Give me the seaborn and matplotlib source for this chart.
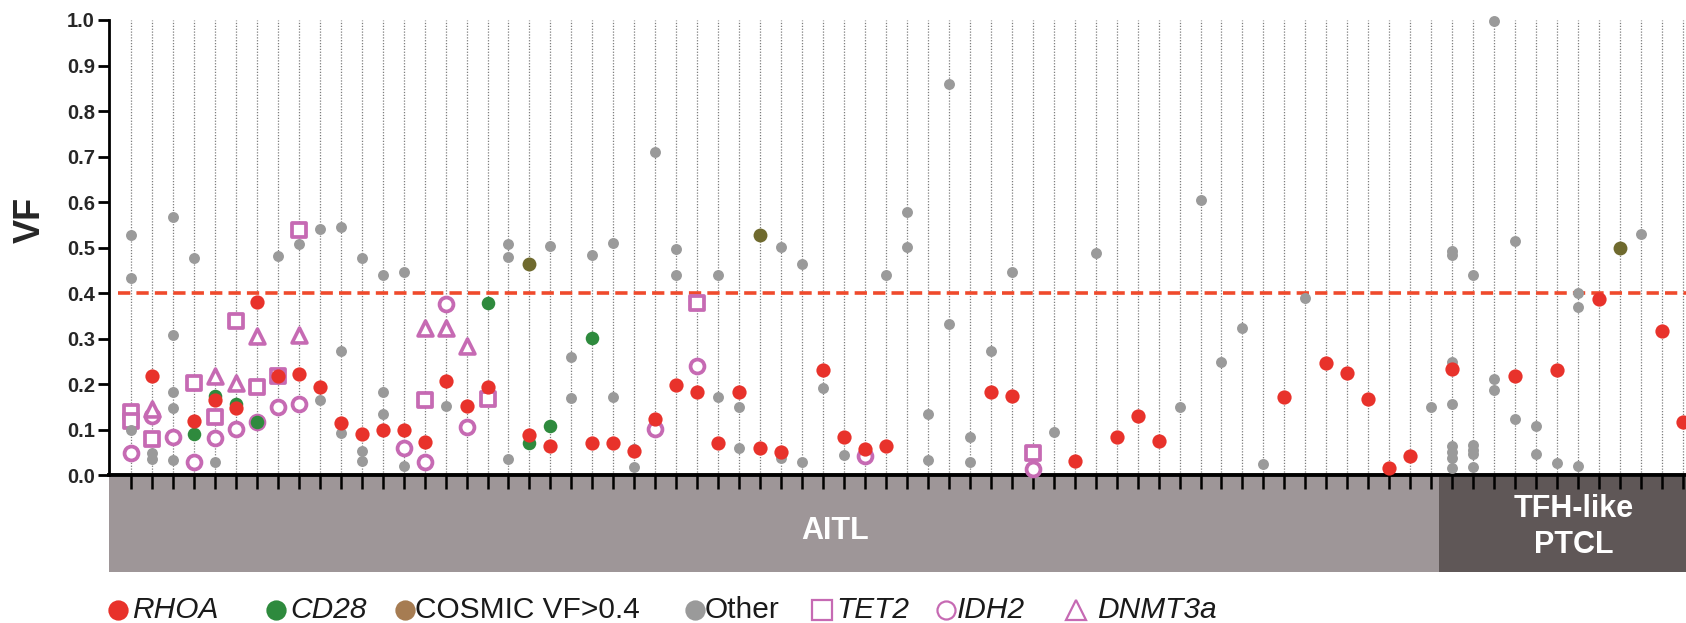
import numpy as np
import pandas as pd
import seaborn as sns
import matplotlib.pyplot as plt
from matplotlib.lines import Line2D

sns.set_theme(style="white")
plt.rcParams['font.family'] = ['Liberation Sans', 'DejaVu Sans']

# samples 0..74, first 63 are AITL, the rest TFH-like PTCL
n_samples = 75
group_names = ['AITL', 'TFH-like\nPTCL']
group_sizes = [63, 12]

# RHOA (red dots)
rhoa_x = [1, 3, 4, 5, 6, 7, 8, 9, 10, 11, 12, 13, 14, 15, 16, 17, 19, 20, 22, 23,
          24, 25, 26, 27, 28, 29, 30, 31, 33, 34, 35, 36, 41, 42, 45, 47, 48, 49,
          55, 57, 58, 59, 60, 61, 63, 66, 68, 70, 73, 74]
rhoa_vf = [0.219, 0.12, 0.165, 0.147, 0.38, 0.219, 0.223, 0.193, 0.114, 0.091,
           0.10, 0.10, 0.074, 0.206, 0.153, 0.195, 0.089, 0.064, 0.07, 0.071,
           0.054, 0.123, 0.198, 0.182, 0.072, 0.182, 0.059, 0.052, 0.232, 0.083,
           0.058, 0.064, 0.182, 0.174, 0.031, 0.085, 0.13, 0.075,
           0.173, 0.246, 0.224, 0.167, 0.016, 0.042, 0.234, 0.218, 0.231, 0.388,
           0.318, 0.116]

# CD28 (green dots)
cd28_x = [3, 4, 5, 6, 17, 19, 20, 22]
cd28_vf = [0.091, 0.174, 0.157, 0.116, 0.379, 0.072, 0.108, 0.301]

# COSMIC VF>0.4
cosmic_x = [19, 30, 71]
cosmic_vf = [0.463, 0.527, 0.50]

# Other (grey dots)
other_x = [0, 0, 0, 1, 1, 2, 2, 2, 2, 2, 3, 4, 7, 8, 9, 9, 10, 10, 10, 11, 11, 11,
           12, 12, 12, 13, 13, 15, 18, 18, 18, 20, 21, 21, 22, 23, 23, 24, 24, 25,
           26, 26, 28, 28, 29, 29, 31, 31, 32, 32, 33, 34, 36, 37, 37, 38, 38, 39,
           39, 40, 40, 41, 42, 44, 46, 50, 51, 52, 53, 54, 56, 62,
           63, 63, 63, 63, 63, 63, 63, 63, 64, 64, 64, 64, 64, 65, 65, 65, 66, 66,
           67, 67, 68, 69, 69, 69, 72]
other_vf = [0.527, 0.433, 0.10, 0.05, 0.036, 0.568, 0.308, 0.182, 0.147, 0.034,
            0.478, 0.029, 0.482, 0.507, 0.542, 0.165, 0.545, 0.274, 0.092, 0.477,
            0.053, 0.032, 0.44, 0.184, 0.134, 0.447, 0.02, 0.153, 0.507, 0.479,
            0.035, 0.503, 0.259, 0.169, 0.483, 0.51, 0.172, 0.058, 0.019, 0.709,
            0.496, 0.44, 0.441, 0.171, 0.149, 0.059, 0.502, 0.037, 0.465, 0.03,
            0.192, 0.044, 0.439, 0.578, 0.501, 0.135, 0.034, 0.86, 0.332, 0.084,
            0.029, 0.272, 0.447, 0.095, 0.488, 0.149, 0.604, 0.248, 0.323, 0.024,
            0.39, 0.149,
            0.493, 0.483, 0.248, 0.157, 0.065, 0.052, 0.038, 0.016, 0.44, 0.067,
            0.056, 0.047, 0.019, 0.998, 0.211, 0.187, 0.514, 0.123, 0.108, 0.046,
            0.027, 0.401, 0.369, 0.02, 0.529]

# TET2 (open squares)
tet2_x = [0, 0, 1, 3, 4, 5, 6, 7, 8, 14, 17, 27, 43]
tet2_vf = [0.14, 0.12, 0.079, 0.202, 0.129, 0.339, 0.193, 0.219, 0.539, 0.165,
           0.168, 0.379, 0.048]

# IDH2 (open circles)
idh2_x = [0, 1, 2, 3, 4, 5, 6, 7, 8, 13, 14, 15, 16, 25, 27, 35, 43]
idh2_vf = [0.05, 0.13, 0.083, 0.03, 0.081, 0.102, 0.118, 0.149, 0.157, 0.059,
           0.029, 0.376, 0.107, 0.102, 0.24, 0.042, 0.014]

# DNMT3a (open triangles)
dnmt3a_x = [1, 4, 5, 6, 8, 14, 15, 16]
dnmt3a_vf = [0.145, 0.218, 0.202, 0.305, 0.308, 0.323, 0.323, 0.284]

cutoff = 0.4

red = '#e8322b'
green = '#2e8a3d'
olive = '#6f6a2e'
brown = '#a67c52'
grey = '#9a9a9a'
pink = '#c66ab3'

parts = []
for gene, xs, vs in [('RHOA', rhoa_x, rhoa_vf), ('CD28', cd28_x, cd28_vf),
                     ('COSMIC', cosmic_x, cosmic_vf), ('Other', other_x, other_vf),
                     ('TET2', tet2_x, tet2_vf), ('IDH2', idh2_x, idh2_vf),
                     ('DNMT3a', dnmt3a_x, dnmt3a_vf)]:
    parts.append(pd.DataFrame({'sample': xs, 'VF': vs, 'gene': gene}))
df = pd.concat(parts, ignore_index=True)

styles = {
    'TET2':   dict(marker='s', s=92, color='white', edgecolor=pink, linewidth=2.7, zorder=3),
    'IDH2':   dict(marker='o', s=100, color='white', edgecolor=pink, linewidth=2.7, zorder=3),
    'DNMT3a': dict(marker='^', s=115, color='white', edgecolor=pink, linewidth=2.6, zorder=3),
    'Other':  dict(marker='o', s=62, color=grey, linewidth=0, zorder=4),
    'CD28':   dict(marker='o', s=95, color=green, linewidth=0, zorder=5),
    'RHOA':   dict(marker='o', s=105, color=red, linewidth=0, zorder=6),
    'COSMIC': dict(marker='o', s=100, color=olive, linewidth=0, zorder=6),
}

fig = plt.figure(figsize=(16.86, 6.23), dpi=100)
ax = fig.add_axes([0.06465, 0.2371, 0.93535, 0.7308])
band = fig.add_axes([0.06465, 0.0819, 0.93535, 0.1525])
ax.set_zorder(2)
band.set_zorder(1)
ax.patch.set_alpha(0)

xmin, xmax = -1.05, 74.15

ax.vlines(np.arange(n_samples), 0, 1, colors='#7d7d7d',
          linestyles=(0, (1, 1.3)), linewidth=0.9, zorder=1)
ax.axhline(cutoff, xmin=0.006, xmax=1, color='#ef4a2c', linewidth=2.6,
           linestyle=(0, (3.4, 1.7)), zorder=2)

for gene, st in styles.items():
    sub = df[df['gene'] == gene]
    sns.scatterplot(data=sub, x='sample', y='VF', ax=ax, clip_on=False,
                    legend=False, **st)

ax.set_xlim(xmin, xmax)
ax.set_ylim(0, 1.0)
ax.set_xticks(np.arange(n_samples))
ax.set_xticklabels([])
ax.set_yticks(np.round(np.arange(0, 1.01, 0.1), 1))
ax.set_yticklabels([f'{v:.1f}' for v in np.arange(0, 1.01, 0.1)],
                   fontsize=14.5, fontweight='bold')
ax.tick_params(axis='x', direction='out', length=10, width=1.8, color='black',
               bottom=True)
ax.tick_params(axis='y', direction='out', length=8, width=2, color='black',
               left=True, pad=2)
ax.set_xlabel('')
ax.set_ylabel('')
for side in ['top', 'right']:
    ax.spines[side].set_visible(False)
ax.spines['left'].set_linewidth(2)
ax.spines['left'].set_color('black')
ax.spines['bottom'].set_linewidth(2.8)
ax.spines['bottom'].set_color('black')
fig.text(30 / 1686, 1 - 220 / 623, 'VF', rotation=90, fontsize=26,
         fontweight='bold', ha='center', va='center')

# group band under the axis
boundary = group_sizes[0] - 0.65
band.set_xlim(xmin, xmax)
band.set_ylim(0, 1)
band.axvspan(xmin, boundary, color='#9e9698', lw=0)
band.axvspan(boundary, xmax, color='#5f5757', lw=0)
band.axis('off')
fig.text(835 / 1686, 1 - 531 / 623, group_names[0], color='white',
         fontsize=22, fontweight='bold', ha='center', va='center')
fig.text(1574 / 1686, 1 - 527 / 623, group_names[1], color='white',
         fontsize=22, fontweight='bold', ha='center', va='center',
         linespacing=1.3)

# legend row
ly = 1 - 610 / 623
legend_items = [
    ('RHOA', 'o', red, red, 'italic', 118, 132),
    ('CD28', 'o', green, green, 'italic', 276, 290),
    ('COSMIC VF>0.4', 'o', brown, brown, 'normal', 405, 415),
    ('Other', 'o', grey, grey, 'normal', 695, 705),
    ('TET2', 's', 'none', pink, 'italic', 822, 836),
    ('IDH2', 'o', 'none', pink, 'italic', 946, 957),
    ('DNMT3a', '^', 'none', pink, 'italic', 1076, 1097),
]
for label, mk, fc, ec, fs, mx, tx in legend_items:
    size = 13 if mk == 'o' else 14
    fig.add_artist(Line2D([mx / 1686], [ly], transform=fig.transFigure,
                          marker=mk, markersize=size, markerfacecolor=fc,
                          markeredgecolor=ec, markeredgewidth=1.6,
                          linestyle='none'))
    fig.text(tx / 1686, ly, label, fontsize=21.5, fontstyle=fs,
             ha='left', va='center', color='#1a1a1a')

fig.savefig('out.png', dpi=100)
